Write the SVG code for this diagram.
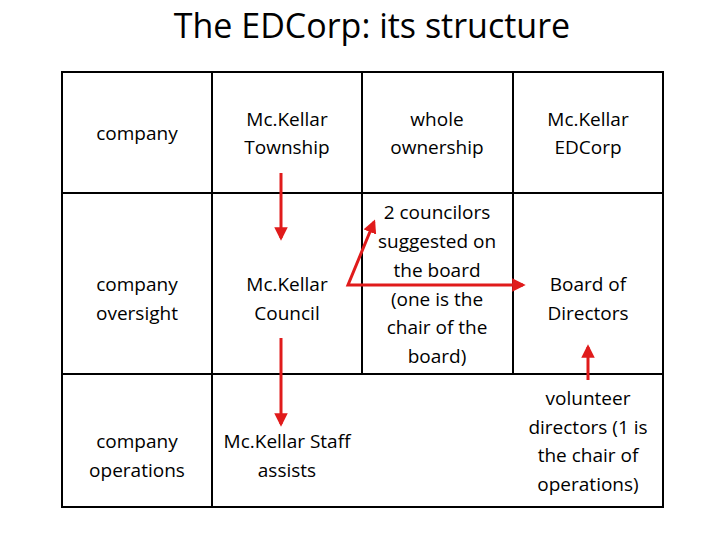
<svg xmlns="http://www.w3.org/2000/svg" width="720" height="540" viewBox="0 0 720 540">
<style>
text{font-family:"Open Sans","Liberation Sans",sans-serif;fill:#000;text-anchor:middle}
.c{font-size:19px}
.t{font-size:34px}
.g{stroke:#000;stroke-width:2;fill:none}
.a{stroke:#e01b1b;stroke-width:3;fill:none}
</style>
<defs><marker id="h" viewBox="0 0 10 10" refX="8" refY="5" markerWidth="4.5" markerHeight="4.5" orient="auto-start-reverse"><path d="M0,0L10,5L0,10z" fill="#e01b1b"/></marker></defs>
<rect width="720" height="540" fill="#fff"/>
<text class="t" x="372" y="38">The EDCorp: its structure</text>
<g id="grid" class="g">
<rect x="62" y="72" width="601" height="435"/>
<path d="M212,72V507M362,72V374M513,72V374M62,193H663M62,374H663"/>
</g>
<g id="n1"><text class="c" x="137" y="140">company</text></g>
<g id="n2"><text class="c" x="287" y="126">Mc.Kellar</text><text class="c" x="287" y="154">Township</text></g>
<g id="n3"><text class="c" x="437" y="126">whole</text><text class="c" x="437" y="154">ownership</text></g>
<g id="n4"><text class="c" x="588" y="126">Mc.Kellar</text><text class="c" x="588" y="154">EDCorp</text></g>
<g id="n5"><text class="c" x="137" y="291">company</text><text class="c" x="137" y="320">oversight</text></g>
<g id="n6"><text class="c" x="287" y="291">Mc.Kellar</text><text class="c" x="287" y="320">Council</text></g>
<g id="n7"><text class="c" x="437" y="219">2 councilors</text><text class="c" x="437" y="248">suggested on</text><text class="c" x="437" y="277">the board</text><text class="c" x="437" y="306">(one is the</text><text class="c" x="437" y="334">chair of the</text><text class="c" x="437" y="363">board)</text></g>
<g id="n8"><text class="c" x="588" y="291">Board of</text><text class="c" x="588" y="320">Directors</text></g>
<g id="n9"><text class="c" x="137" y="448">company</text><text class="c" x="137" y="477">operations</text></g>
<g id="n10"><text class="c" x="287" y="448">Mc.Kellar Staff</text><text class="c" x="287" y="477">assists</text></g>
<g id="n11"><text class="c" x="588" y="405">volunteer</text><text class="c" x="588" y="434">directors (1 is</text><text class="c" x="588" y="462">the chair of</text><text class="c" x="588" y="491">operations)</text></g>
<g id="connectors">
<path class="a" d="M281,173V238" marker-end="url(#h)"/>
<path class="a" d="M281,338V424" marker-end="url(#h)"/>
<path class="a" d="M374,222L348,285H523" marker-start="url(#h)" marker-end="url(#h)"/>
<path class="a" d="M588,380V347" marker-end="url(#h)"/>
</g>
</svg>
